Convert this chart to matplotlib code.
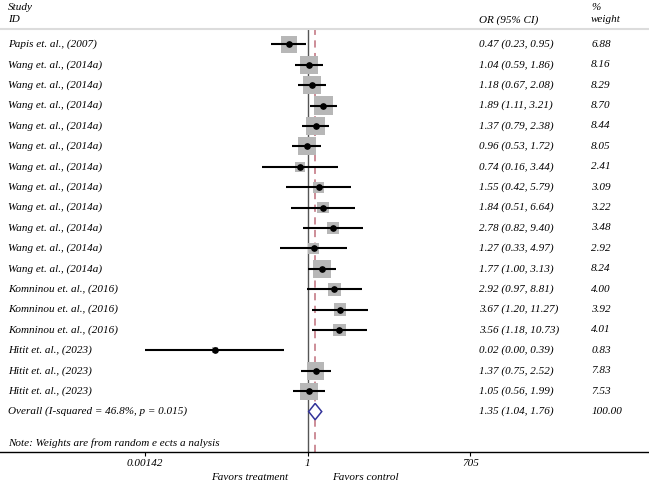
import matplotlib.pyplot as plt
import matplotlib.transforms as mtransforms
import numpy as np

studies = ["Papis et. al., (2007)"] + ["Wang et. al., (2014a)"] * 11 + \
          ["Komninou et. al., (2016)"] * 3 + ["Hitit et. al., (2023)"] * 3
odds = [0.47, 1.04, 1.18, 1.89, 1.37, 0.96, 0.74, 1.55, 1.84, 2.78, 1.27, 1.77,
        2.92, 3.67, 3.56, 0.024, 1.37, 1.05]
lower = [0.23, 0.59, 0.67, 1.11, 0.79, 0.53, 0.16, 0.42, 0.51, 0.82, 0.33, 1.00,
         0.97, 1.20, 1.18, 0.0014, 0.75, 0.56]
upper = [0.95, 1.86, 2.08, 3.21, 2.38, 1.72, 3.44, 5.79, 6.64, 9.40, 4.97, 3.13,
         8.81, 11.27, 10.73, 0.39, 2.52, 1.99]
weights = [6.88, 8.16, 8.29, 8.70, 8.44, 8.05, 2.41, 3.09, 3.22, 3.48, 2.92, 8.24,
           4.00, 3.92, 4.01, 0.83, 7.83, 7.53]
overall = (1.35, 1.04, 1.76)
overall_label = "Overall (I-squared = 46.8%, p = 0.015)"
note = "Note: Weights are from random e ects a nalysis"
tick_vals = [0.00142, 1, 705]
tick_labels = ["0.00142", "1", "705"]

FONT = dict(family="Liberation Serif", style="italic", size=8)

fig = plt.figure(figsize=(6.49, 4.84), dpi=100)
ax = fig.add_axes([0, 32 / 484, 1, (452 - 29) / 484])
ax.set_xscale("log")
ax.set_xlim(10 ** -5.384, 10 ** 5.972)
ax.set_ylim(19.98, -0.75)

n = len(studies)
rows = np.arange(n)

ax.axvline(1, color="#555555", lw=1.0, zorder=1)
ax.axvline(overall[0], color="#c98590", lw=1.3, ls=(0, (4, 3)), zorder=1)

ax.scatter(odds, rows, marker="s", s=np.array(weights) * 20.8,
           color="#b7b7b7", lw=0, zorder=2)
ax.hlines(rows, lower, upper, color="black", lw=1.5, zorder=3)
ax.plot(odds, rows, "o", color="black", ms=3.8, zorder=4)

# overall diamond
yo = n
est, lo, hi = overall
ax.fill([lo, est, hi, est, lo], [yo, yo - 0.4, yo, yo + 0.4, yo],
        facecolor="white", edgecolor="#33339a", lw=1.1, zorder=4)

tr = mtransforms.blended_transform_factory(ax.transAxes, ax.transData)
for i in range(n):
    ax.text(0.0123, i, studies[i], transform=tr, va="center", ha="left", **FONT)
    ax.text(0.738, i, f"{odds[i]:.2f} ({lower[i]:.2f}, {upper[i]:.2f})",
            transform=tr, va="center", ha="left", **FONT)
    ax.text(0.911, i, f"{weights[i]:.2f}", transform=tr, va="center", ha="left", **FONT)
ax.text(0.0123, yo, overall_label, transform=tr, va="center", ha="left", **FONT)
ax.text(0.738, yo, f"{est:.2f} ({lo:.2f}, {hi:.2f})", transform=tr,
        va="center", ha="left", **FONT)
ax.text(0.911, yo, "100.00", transform=tr, va="center", ha="left", **FONT)
ax.text(0.0123, 19.53, note, transform=tr, va="center", ha="left", **FONT)

# header
fig.text(8 / 649, 1 - 8 / 484, "Study", va="center", ha="left", **FONT)
fig.text(8 / 649, 1 - 20 / 484, "ID", va="center", ha="left", **FONT)
fig.text(479 / 649, 1 - 20 / 484, "OR (95% CI)", va="center", ha="left", **FONT)
fig.text(591 / 649, 1 - 8 / 484, "%", va="center", ha="left", **FONT)
fig.text(591 / 649, 1 - 20 / 484, "weight", va="center", ha="left", **FONT)
fig.text(250 / 649, 1 - 477 / 484, "Favors treatment", va="center", ha="center", **FONT)
fig.text(365 / 649, 1 - 477 / 484, "Favors control", va="center", ha="center", **FONT)

for s in ["left", "right"]:
    ax.spines[s].set_visible(False)
ax.spines["top"].set_color("#dcdcdc")
ax.spines["top"].set_linewidth(1.5)
ax.spines["bottom"].set_color("black")
ax.spines["bottom"].set_linewidth(1.0)
ax.set_yticks([])
ax.xaxis.set_minor_locator(plt.NullLocator())
ax.set_xticks(tick_vals)
ax.set_xticklabels(tick_labels, **FONT)
ax.tick_params(axis="x", length=3, pad=2, width=0.8)
ax.patch.set_alpha(0)

fig.savefig("out.png", dpi=100)
